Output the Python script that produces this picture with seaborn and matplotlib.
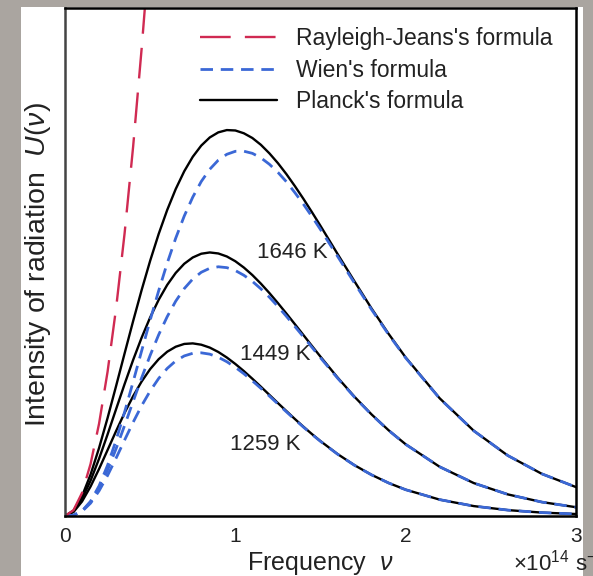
"""
Blackbody radiation: Rayleigh-Jeans, Wien and Planck curves
"""

import numpy as np
import pandas as pd
import seaborn as sns
import matplotlib.pyplot as plt
from matplotlib.patches import Rectangle
from matplotlib.lines import Line2D

# frequency in units of 1e14 s^-1, intensity in arbitrary units
nu = [0, 0.05, 0.1, 0.15, 0.2, 0.25, 0.3, 0.35, 0.4, 0.45, 0.5, 0.55, 0.6, 0.65, 0.7,
      0.75, 0.8, 0.85, 0.9, 0.95, 1.0, 1.05, 1.1, 1.15, 1.2, 1.25, 1.3, 1.35, 1.4, 1.45,
      1.5, 1.6, 1.7, 1.8, 1.9, 2.0, 2.2, 2.4, 2.6, 2.8, 3.0]

planck_1646 = [0, 0.0106, 0.0391, 0.0815, 0.1339, 0.1930, 0.2559, 0.3202, 0.3837, 0.4449,
               0.5025, 0.5552, 0.6024, 0.6436, 0.6786, 0.7071, 0.7292, 0.7452, 0.7552, 0.7597,
               0.7589, 0.7534, 0.7441, 0.7307, 0.7139, 0.6946, 0.6729, 0.6492, 0.6242, 0.5980,
               0.5711, 0.5159, 0.4617, 0.4084, 0.3585, 0.3121, 0.2316, 0.1677, 0.1189, 0.0829,
               0.0569]
wien_1646 = [0, 0.0014, 0.0099, 0.0289, 0.0592, 0.0999, 0.1492, 0.2047, 0.2642, 0.3251,
             0.3856, 0.4435, 0.4977, 0.5469, 0.5904, 0.6277, 0.6585, 0.6826, 0.7005, 0.7120,
             0.7179, 0.7181, 0.7139, 0.7051, 0.6924, 0.6765, 0.6579, 0.6364, 0.6137, 0.5894,
             0.5639, 0.5113, 0.4583, 0.4063, 0.3571, 0.3112, 0.2312, 0.1676, 0.1190, 0.0829,
             0.0569]

planck_1449 = [0, 0.0092, 0.0338, 0.0695, 0.1128, 0.1607, 0.2104, 0.2598, 0.3072, 0.3512,
               0.3910, 0.4256, 0.4549, 0.4785, 0.4965, 0.5089, 0.5163, 0.5188, 0.5168, 0.5109,
               0.5015, 0.4891, 0.4743, 0.4574, 0.4389, 0.4191, 0.3985, 0.3774, 0.3561, 0.3347,
               0.3136, 0.2727, 0.2346, 0.1999, 0.1687, 0.1412, 0.0968, 0.0648, 0.0425, 0.0274,
               0.0173]
wien_1449 = [0, 0.0014, 0.0095, 0.0272, 0.0547, 0.0905, 0.1325, 0.1783, 0.2256, 0.2721,
             0.3163, 0.3568, 0.3924, 0.4229, 0.4476, 0.4665, 0.4798, 0.4877, 0.4906, 0.4889,
             0.4832, 0.4739, 0.4619, 0.4472, 0.4307, 0.4125, 0.3930, 0.3729, 0.3526, 0.3320,
             0.3114, 0.2714, 0.2338, 0.1994, 0.1684, 0.1410, 0.0968, 0.0648, 0.0425, 0.0274,
             0.0173]

planck_1259 = [0, 0.0079, 0.0286, 0.0580, 0.0927, 0.1299, 0.1673, 0.2031, 0.2359, 0.2648,
               0.2892, 0.3087, 0.3234, 0.3332, 0.3387, 0.3398, 0.3372, 0.3315, 0.3229, 0.3120,
               0.2993, 0.2853, 0.2702, 0.2545, 0.2384, 0.2223, 0.2065, 0.1908, 0.1757, 0.1612,
               0.1474, 0.1220, 0.0999, 0.0810, 0.0650, 0.0518, 0.0322, 0.0195, 0.0116, 0.0067,
               0.0039]
wien_1259 = [0, 0.0014, 0.0091, 0.0252, 0.0495, 0.0798, 0.1140, 0.1496, 0.1845, 0.2172,
             0.2461, 0.2708, 0.2905, 0.3053, 0.3151, 0.3203, 0.3212, 0.3186, 0.3125, 0.3037,
             0.2927, 0.2801, 0.2661, 0.2513, 0.2361, 0.2205, 0.2050, 0.1897, 0.1749, 0.1605,
             0.1469, 0.1217, 0.0997, 0.0809, 0.0650, 0.0517, 0.0322, 0.0195, 0.0116, 0.0067,
             0.0039]

nu_rj = [0, 0.05, 0.1, 0.15, 0.2, 0.25, 0.3, 0.35, 0.4, 0.45, 0.48]
rj_1646 = [0, 0.0114, 0.0455, 0.1023, 0.1818, 0.2841, 0.4091, 0.5568, 0.7272, 0.9204, 1.0472]

temps = ["1646 K", "1449 K", "1259 K"]
temp_label_x = [1.335, 1.235, 1.176]
temp_label_y = [0.518, 0.317, 0.140]

x_ticks = [0, 1, 2, 3]

# colours
RED = "#d02a52"
BLUE = "#3b68d6"
BG = "#aaa5a0"

sns.set_style("white")
plt.rcParams["font.family"] = ["Liberation Sans", "DejaVu Sans"]
plt.rcParams["mathtext.fontset"] = "custom"
plt.rcParams["mathtext.rm"] = "Liberation Sans"
plt.rcParams["mathtext.it"] = "Liberation Sans:italic"

W, H = 593, 576
fig = plt.figure(figsize=(W / 100, H / 100), dpi=100)
fig.patch.set_facecolor(BG)
# white panel behind the chart
fig.patches.append(Rectangle((21 / W, 0), (583 - 21) / W, (H - 7) / H,
                             transform=fig.transFigure, facecolor="white",
                             edgecolor="none", zorder=-5))

ax = fig.add_axes([65 / W, (H - 516) / H, (576 - 65) / W, (516 - 8) / H])
ax.set_facecolor("white")

planck_kw = dict(color="black", linewidth=1.7)
wien_kw = dict(color=BLUE, linewidth=2.0, dashes=(4.5, 2.8))
rj_kw = dict(color=RED, linewidth=1.7, dashes=(13, 6))

for p in [planck_1646, planck_1449, planck_1259]:
    sns.lineplot(x=nu, y=p, ax=ax, **planck_kw)
for w in [wien_1646, wien_1449, wien_1259]:
    sns.lineplot(x=nu, y=w, ax=ax, **wien_kw)
sns.lineplot(x=nu_rj, y=rj_1646, ax=ax, **rj_kw)

for t, tx, ty in zip(temps, temp_label_x, temp_label_y):
    ax.text(tx, ty, t, fontsize=16, ha="center", va="center", color="#222222")

ax.set_xlim(0, 3)
ax.set_ylim(0, 1)
ax.set_xticks(x_ticks)
ax.set_xticklabels([str(t) for t in x_ticks], fontsize=15)
ax.set_yticks([])
ax.tick_params(axis="x", direction="in", length=7, width=1.4, pad=8, colors="black",
               labelcolor="#222222")
for s in ax.spines.values():
    s.set_visible(True)
    s.set_color("black")
    s.set_linewidth(1.8)
ax.spines["left"].set_color("#444444")

ax.set_xlabel(r"Frequency  $\nu$", fontsize=18, labelpad=3, color="#222222")
ax.set_ylabel(r"Intensity of radiation  $U(\nu)$", fontsize=20.5, color="#222222",
              va="center")
ax.yaxis.set_label_coords(-0.053, 0.495)
fig.text(513 / W, 1 - 563 / H, r"×10$^{14}$ s$^{-1}$", fontsize=16,
         ha="left", va="center", color="#222222")

handles = [Line2D([], [], **rj_kw), Line2D([], [], **wien_kw), Line2D([], [], **planck_kw)]
labels = ["Rayleigh-Jeans's formula", "Wien's formula", "Planck's formula"]
ax.legend(handles, labels, loc="upper left", bbox_to_anchor=(0.264, 0.962), frameon=False,
          fontsize=16.5, handlelength=3.36, handletextpad=0.85, labelspacing=0.36,
          borderpad=0, borderaxespad=0, labelcolor="#222222")

fig.savefig("out.png", dpi=100, facecolor=fig.get_facecolor())
